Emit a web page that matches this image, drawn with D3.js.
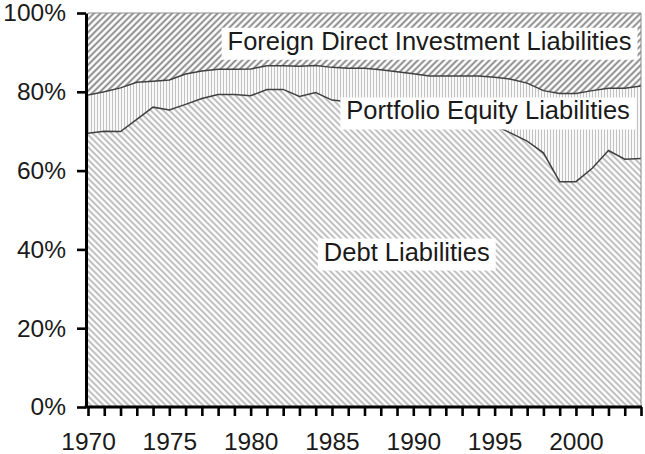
<!DOCTYPE html>
<html>
<head>
<meta charset="utf-8">
<script src="https://cdn.jsdelivr.net/npm/d3@7"></script>
<style>
  html, body { margin: 0; padding: 0; background: #fff; }
  svg { display: block; font-family: "Liberation Sans", Arial, sans-serif; }
</style>
</head>
<body>
<svg id="chart" width="645" height="454"></svg>
<script>
// shares of total external liabilities, percent
const years = d3.range(1970, 2005);
const debtShare = [
    69.5, 70.0, 69.9, 73.0, 76.1, 75.4, 76.8, 78.3, 79.3, 79.3,
    79.0, 80.6, 80.6, 78.8, 79.8, 77.9, 77.5, 77.0, 76.5, 76.0,
    75.5, 75.0, 74.5, 73.5, 72.5, 71.5, 69.5, 67.5, 64.5, 57.2,
    57.2, 60.6, 65.1, 62.9, 63.1
];
const equityShare = [
    9.7, 10.0, 11.1, 9.4, 6.6, 7.6, 7.7, 7.0, 6.4, 6.4,
    6.8, 6.0, 6.0, 7.7, 6.9, 8.3, 8.5, 9.0, 9.1, 9.1,
    9.1, 9.0, 9.5, 10.5, 11.5, 12.2, 13.7, 14.7, 15.8, 22.4,
    22.4, 19.7, 15.8, 18.0, 18.4
];
const fdiShare = [
    20.8, 20.0, 19.0, 17.6, 17.3, 17.0, 15.5, 14.7, 14.3, 14.3,
    14.2, 13.4, 13.4, 13.5, 13.3, 13.8, 14.0, 14.0, 14.4, 14.9,
    15.4, 16.0, 16.0, 16.0, 16.0, 16.3, 16.8, 17.8, 19.7, 20.4,
    20.4, 19.7, 19.1, 19.1, 18.5
];
const seriesKeys = ['debt', 'equity', 'fdi'];
const yTicks = [0, 20, 40, 60, 80, 100];

// in-chart labels: year / percent of the label centre
const labels = [
    { text: 'Foreign Direct Investment Liabilities', year: 1991.0, value: 93.0 },
    { text: 'Portfolio Equity Liabilities', year: 1994.6, value: 75.3 },
    { text: 'Debt Liabilities', year: 1989.6, value: 39.5 },
];

const x = d3.scaleLinear().domain([1970, 2004]).range([88, 641]);
const y = d3.scaleLinear().domain([0, 100]).range([407, 13]);

const table = years.map((yr, i) => ({
    year: yr,
    debt: debtShare[i],
    equity: equityShare[i],
    fdi: fdiShare[i],
}));
const stacked = d3.stack().keys(seriesKeys)(table);

const svg = d3.select('#chart');
const defs = svg.append('defs');

// hatch fills, same look as the old spreadsheet patterns
function hatch(id, size, angle, stroke, width) {
    const p = defs.append('pattern')
        .attr('id', id)
        .attr('patternUnits', 'userSpaceOnUse')
        .attr('width', size)
        .attr('height', size)
        .attr('patternTransform', `rotate(${ angle })`);
    p.append('rect').attr('width', size).attr('height', size).attr('fill', '#fff');
    p.append('line')
        .attr('x1', size / 2).attr('y1', 0)
        .attr('x2', size / 2).attr('y2', size)
        .attr('stroke', stroke)
        .attr('stroke-width', width);
}
hatch('pat-debt', 4.4, -45, '#b3b3b3', 1.7);
hatch('pat-equity', 3, 0, '#c2c2c2', 1.2);
hatch('pat-fdi', 4.6, 45, '#808080', 1.8);

const fills = { debt: 'url(#pat-debt)', equity: 'url(#pat-equity)', fdi: 'url(#pat-fdi)' };

const area = d3.area()
    .x(d => x(d.data.year))
    .y0(d => y(d[0]))
    .y1(d => y(d[1]));

svg.append('g')
    .selectAll('path')
    .data(stacked)
    .join('path')
    .attr('d', area)
    .attr('fill', d => fills[d.key]);

// boundary lines between the layers
const topLine = d3.line()
    .x(d => x(d.data.year))
    .y(d => y(d[1]));
svg.append('g')
    .selectAll('path')
    .data(stacked.filter(s => s.key !== 'fdi'))
    .join('path')
    .attr('d', topLine)
    .attr('fill', 'none')
    .attr('stroke', '#404040')
    .attr('stroke-width', 1.5);

// plot frame on the top and right
svg.append('path')
    .attr('d', `M ${ x(1970) },${ y(100) } H ${ x(2004) } V ${ y(0) }`)
    .attr('fill', 'none')
    .attr('stroke', '#8c8c8c')
    .attr('stroke-width', 1);

// labels with white boxes behind them
const lab = svg.append('g')
    .selectAll('g')
    .data(labels)
    .join('g');
const labText = lab.append('text')
    .attr('x', d => x(d.year))
    .attr('y', d => y(d.value))
    .attr('dy', '0.36em')
    .attr('text-anchor', 'middle')
    .attr('font-size', 25.5)
    .attr('fill', '#1a1a1a')
    .text(d => d.text);
labText.each(function () {
    const b = this.getBBox();
    d3.select(this.parentNode).insert('rect', 'text')
        .attr('x', b.x - 6)
        .attr('y', b.y + 1)
        .attr('width', b.width + 12)
        .attr('height', b.height + 4)
        .attr('fill', '#fff');
});

// axes
const xAxis = d3.axisBottom(x)
    .tickValues(years)
    .tickFormat(d => (d % 5 === 0 ? String(d) : ''))
    .tickSize(9)
    .tickSizeOuter(0)
    .tickPadding(17);
const gx = svg.append('g')
    .attr('transform', `translate(0,${ y(0) })`)
    .call(xAxis);

const yAxis = d3.axisLeft(y)
    .tickValues(yTicks)
    .tickFormat(d => `${ d }%`)
    .tickSize(9)
    .tickSizeOuter(0)
    .tickPadding(11);
const gy = svg.append('g')
    .attr('transform', `translate(${ x(1970) - 2 },0)`)
    .call(yAxis);

for (const g of [gx, gy]) {
    g.select('.domain').attr('stroke', '#000').attr('stroke-width', 3);
    g.selectAll('.tick line').attr('stroke', '#000').attr('stroke-width', 2.6);
    g.selectAll('.tick text')
        .attr('font-family', '"Liberation Sans", Arial, sans-serif')
        .attr('font-size', 24.5)
        .attr('fill', '#1a1a1a');
}
gx.select('.domain').attr('d', `M ${ x(1970) - 3.5 },0 H ${ x(2004) + 1 }`);
</script>
</body>
</html>
